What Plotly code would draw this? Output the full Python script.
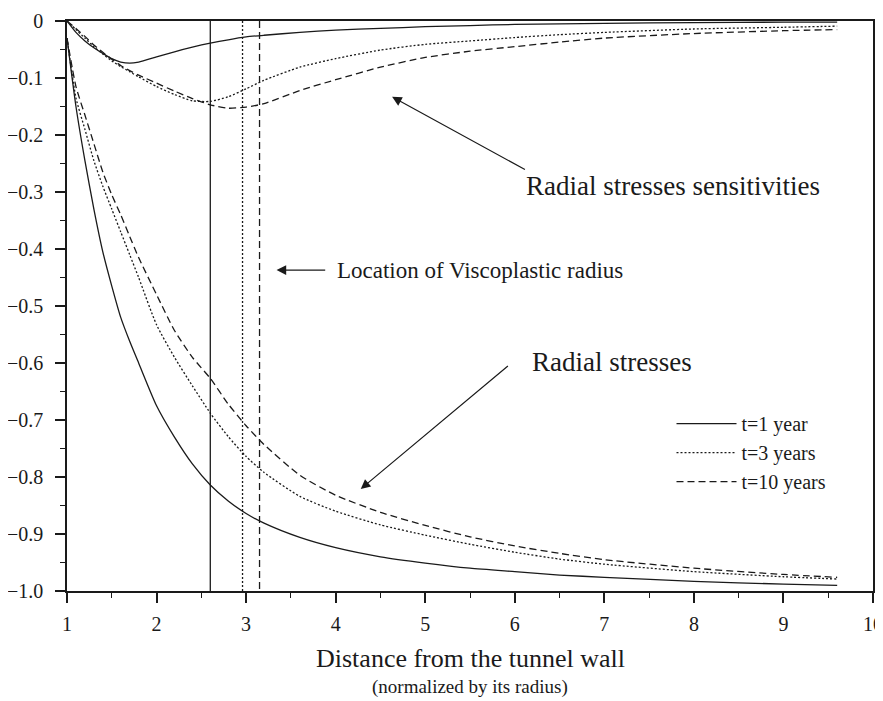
import plotly.graph_objs as go

# distance from the tunnel wall, normalised by the tunnel radius
x = [1.0, 1.1, 1.2, 1.3, 1.4, 1.5, 1.6, 1.7, 1.8, 2.0, 2.2, 2.4, 2.6, 2.8, 3.0,
     3.2, 3.6, 4.0, 4.5, 5.0, 5.5, 6.0, 6.5, 7.0, 8.0, 9.0, 9.6]

# radial stresses
stress_1y = [-0.03, -0.15, -0.245, -0.33, -0.405, -0.465, -0.52, -0.562, -0.60, -0.675,
             -0.73, -0.777, -0.814, -0.842, -0.864, -0.881, -0.906, -0.924, -0.940,
             -0.951, -0.960, -0.966, -0.972, -0.976, -0.983, -0.988, -0.99]
stress_3y = [-0.03, -0.135, -0.19, -0.245, -0.29, -0.33, -0.37, -0.41, -0.45, -0.533,
             -0.59, -0.64, -0.688, -0.729, -0.764, -0.792, -0.834, -0.860, -0.884,
             -0.902, -0.918, -0.932, -0.944, -0.953, -0.966, -0.975, -0.979]
stress_10y = [-0.03, -0.115, -0.165, -0.215, -0.265, -0.305, -0.34, -0.378, -0.415,
              -0.48, -0.543, -0.59, -0.627, -0.672, -0.71, -0.743, -0.797, -0.832,
              -0.862, -0.885, -0.905, -0.921, -0.934, -0.945, -0.960, -0.971, -0.976]

# radial stress sensitivities
sens_1y = [0.0, -0.02, -0.035, -0.047, -0.057, -0.066, -0.072, -0.074, -0.072, -0.063,
           -0.054, -0.046, -0.039, -0.033, -0.028, -0.025, -0.020, -0.016, -0.013,
           -0.010, -0.008, -0.006, -0.005, -0.004, -0.003, -0.002, -0.002]
sens_3y = [0.0, -0.015, -0.03, -0.045, -0.058, -0.07, -0.08, -0.089, -0.098, -0.115,
           -0.129, -0.14, -0.141, -0.133, -0.119, -0.104, -0.081, -0.066, -0.051,
           -0.041, -0.035, -0.029, -0.024, -0.020, -0.014, -0.011, -0.009]
sens_10y = [0.0, -0.013, -0.027, -0.042, -0.055, -0.067, -0.078, -0.087, -0.095, -0.109,
            -0.123, -0.136, -0.147, -0.153, -0.151, -0.145, -0.122, -0.103, -0.081,
            -0.064, -0.053, -0.045, -0.037, -0.030, -0.022, -0.017, -0.015]

# location of the viscoplastic radius
vp_radius = [2.6, 2.96, 3.15]

labels = ["t=1 year", "t=3 years", "t=10 years"]
dashes = ["solid", "2px,2px", "7px,4px"]

y_ticks = [0, -0.1, -0.2, -0.3, -0.4, -0.5, -0.6, -0.7, -0.8, -0.9, -1.0]
y_tick_text = ["0", "\u22120.1", "\u22120.2", "\u22120.3", "\u22120.4", "\u22120.5",
               "\u22120.6", "\u22120.7", "\u22120.8", "\u22120.9", "\u22121.0"]

FONT = "Liberation Serif, Times New Roman, serif"
INK = "#1a1a1a"

fig = go.Figure()

for i, (stress, sens) in enumerate(zip([stress_1y, stress_3y, stress_10y],
                                       [sens_1y, sens_3y, sens_10y])):
    line = dict(color=INK, width=1.3, dash=dashes[i], shape="spline", smoothing=0.6)
    fig.add_trace(go.Scatter(x=x, y=stress, mode="lines", line=line,
                             name=labels[i], legendgroup=labels[i]))
    fig.add_trace(go.Scatter(x=x, y=sens, mode="lines", line=line,
                             name=labels[i], legendgroup=labels[i], showlegend=False))
    fig.add_trace(go.Scatter(x=[vp_radius[i], vp_radius[i]], y=[0, -1.0], mode="lines",
                             line=dict(color=INK, width=1.3, dash=dashes[i]),
                             legendgroup=labels[i], showlegend=False))


def arrow(text, head, tail, text_xy, size):
    fig.add_annotation(x=head[0], y=head[1], ax=tail[0], ay=tail[1],
                       axref="x", ayref="y", text="", showarrow=True,
                       arrowhead=2, arrowsize=1.6, arrowwidth=1.2, arrowcolor=INK)
    fig.add_annotation(x=text_xy[0], y=text_xy[1], text=text, showarrow=False,
                       xanchor="left", font=dict(family=FONT, size=size, color=INK))


arrow("Radial stresses sensitivities", (4.63, -0.133), (6.13, -0.262), (6.1, -0.29), 27)
arrow("Radial stresses", (4.28, -0.821), (5.94, -0.603), (6.17, -0.598), 27)
arrow("Location of Viscoplastic radius", (3.34, -0.437), (3.9, -0.437), (3.99, -0.437), 23)

# the page body keeps its 8px margin, so margins are shifted to land the plot in place
fig.update_layout(
    width=883,
    height=693,
    margin=dict(l=59, r=18, t=13, b=110, autoexpand=False),
    plot_bgcolor="white",
    paper_bgcolor="white",
    font=dict(family=FONT, size=20, color=INK),
    legend=dict(x=0.75, y=0.328, xanchor="left", yanchor="top",
                bgcolor="rgba(0,0,0,0)", font=dict(size=20), itemwidth=60,
                tracegroupgap=0),
    annotations=list(fig.layout.annotations) + [
        dict(text="Distance from the tunnel wall", x=0.5, y=-0.119, xref="paper",
             yref="paper", showarrow=False, yanchor="middle",
             font=dict(family=FONT, size=26, color=INK)),
        dict(text="(normalized by its radius)", x=0.5, y=-0.168, xref="paper",
             yref="paper", showarrow=False, yanchor="middle",
             font=dict(family=FONT, size=19, color=INK)),
    ],
)

fig.update_xaxes(range=[1, 10], dtick=1, showgrid=False, zeroline=False,
                 showline=True, linecolor=INK, linewidth=1.5, mirror=True,
                 ticks="outside", ticklen=10, tickwidth=1.5, tickcolor=INK,
                 ticklabelstandoff=4, automargin=False,
                 minor=dict(dtick=0.5, ticks="outside", ticklen=5, tickwidth=1.2,
                            tickcolor=INK, showgrid=False))
fig.update_yaxes(range=[-1.0, 0], tickvals=y_ticks, ticktext=y_tick_text,
                 showgrid=False, zeroline=False, showline=True, linecolor=INK,
                 linewidth=1.5, mirror=True, ticks="outside", ticklen=10,
                 tickwidth=1.5, tickcolor=INK, ticklabelstandoff=8, automargin=False,
                 minor=dict(dtick=0.05, ticks="outside", ticklen=5, tickwidth=1.2,
                            tickcolor=INK, showgrid=False))

fig.write_html("out.html")
